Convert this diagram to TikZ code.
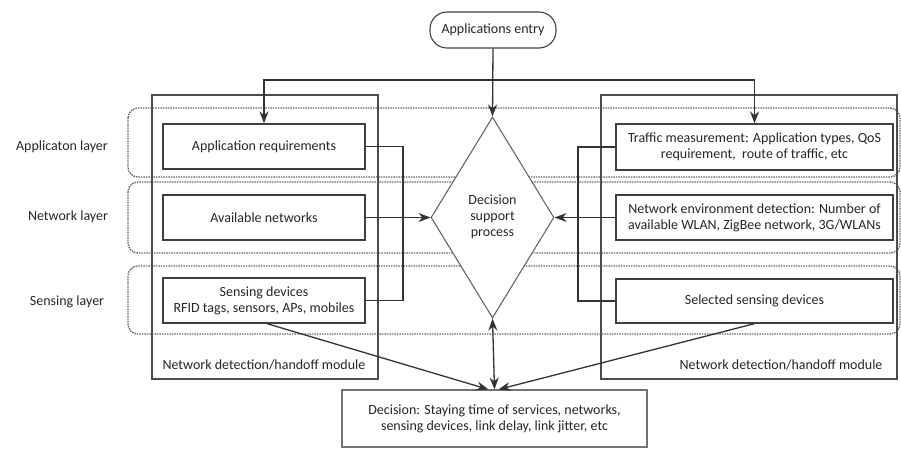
\documentclass[tikz,border=0pt]{standalone}
\usepackage{fontspec}
\setmainfont{Carlito}
\usetikzlibrary{shapes.geometric,arrows.meta,calc}
\begin{document}
\begin{tikzpicture}[x=1pt,y=-1pt,
  every node/.style={font=\fontsize{14}{16}\selectfont, text=black!85, align=center},
  box/.style={draw=black!75, line width=1.3pt, fill=white, inner sep=1pt},
  layerbox/.style={draw=black!60, line width=1.4pt, dash pattern=on 1.5pt off 1pt, rounded corners=10pt},
  modbox/.style={draw=black!70, line width=1.1pt},
  link/.style={draw=black!80, line width=1.3pt},
  arr/.style={link, -{Stealth[length=12pt,width=9pt]}},
  darr/.style={link, {Stealth[length=12pt,width=9pt]}-{Stealth[length=12pt,width=9pt]}}]
\useasboundingbox (0,0) rectangle (901,449);

% layers (dotted bands)
\draw[layerbox] (128,108) rectangle (900,177);
\draw[layerbox] (128,182) rectangle (900,253);
\draw[layerbox] (128,266) rectangle (900,334);
\node (lapp) at (62,147) {Applicaton layer};
\node (lnet) at (68,217) {Network layer};
\node (lsen) at (67,302) {Sensing layer};

% detection/handoff modules
\draw[modbox] (152,95) rectangle (378,379);
\draw[modbox] (601,95) rectangle (897,379);
\node[anchor=west] (modL) at (159,365) {Network detection/handoff module};
\node[anchor=east] (modR) at (886,365) {Network detection/handoff module};

% entry and decision support process
\node[box, line width=1.1pt, rounded corners=17pt, minimum width=126pt, minimum height=36pt] (entry) at (493,30) {Applications entry};
\node[draw=black!60, line width=1.1pt, fill=white, shape=diamond, minimum width=123pt, minimum height=201pt, inner sep=0pt] (dia) at (492.5,217.5) {};
\node (diatext) at (492.5,217) {Decision\\support\\process};

% left column
\node[box, minimum width=202pt, minimum height=45pt] (appreq) at (264,146.5) {Application requirements};
\node[box, minimum width=202pt, minimum height=45pt] (avail) at (264,217.5) {Available networks};
\node[box, minimum width=202pt, minimum height=45pt] (sens) at (264,300.5) {Sensing devices\\RFID tags, sensors, APs, mobiles};

% right column
\node[box, minimum width=277pt, minimum height=46pt] (traffic) at (754.5,147) {Traffic measurement: Application types, QoS\\requirement,\ \ route of traffic, etc};
\node[box, minimum width=277pt, minimum height=45pt] (netenv) at (754.5,217.5) {Network environment detection: Number of\\available WLAN, ZigBee network, 3G/WLANs};
\node[box, minimum width=277pt, minimum height=44pt] (selsens) at (754.5,301) {Selected sensing devices};

% decision
\node[draw=black!55, line width=1.1pt, fill=white, minimum width=305pt, minimum height=57pt] (decision) at (494.5,418.5) {Decision: Staying time of services, networks,\\sensing devices, link delay, link jitter, etc};

% connectors
\coordinate (bus) at (492,80);
\draw[arr] (entry.south) -- (dia.north);
\draw[arr] (bus) -| (appreq.north);
\draw[arr] (bus) -| (traffic.north);

\coordinate (lbr) at (403,0);
\coordinate (rbr) at (578,0);
\draw[link] (appreq.east) -| (lbr |- sens.east) -- (sens.east);
\draw[link] (traffic.west) -| (rbr |- selsens.west) -- (selsens.west);
\draw[arr] (avail.east) -- (dia.west);
\draw[arr] (netenv.west) -- (dia.east);

\draw[darr] (dia.south) -- (decision.north);
\draw[arr] ($(sens.south)+(3,0)$) -- ($(decision.north)+(-6,0)$);
\draw[arr] (selsens.south) -- ($(decision.north)+(4,0)$);
\end{tikzpicture}
\end{document}
